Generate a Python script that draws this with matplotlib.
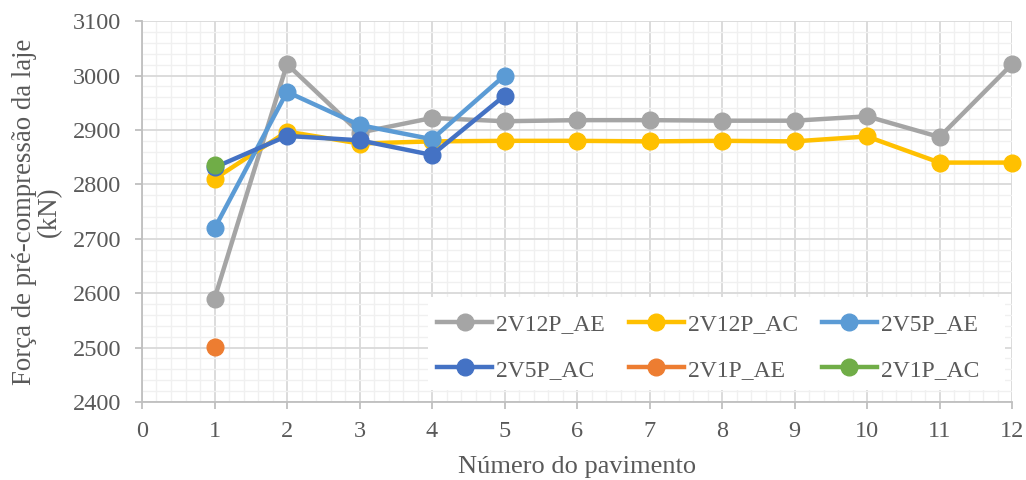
import numpy as np
import matplotlib
matplotlib.use('Agg')
from matplotlib import pyplot as plt
from matplotlib.ticker import MultipleLocator
from matplotlib.patches import Rectangle

plt.rcParams['font.family'] = ['Liberation Serif', 'DejaVu Serif']

floors12 = [1, 2, 3, 4, 5, 6, 7, 8, 9, 10, 11, 12]
floors5 = [1, 2, 3, 4, 5]
floors1 = [1]

v12_ae = [2590, 3021, 2895, 2922, 2916, 2918, 2918, 2917, 2917, 2925, 2887, 3021]
v12_ac = [2810, 2897, 2875, 2879, 2880, 2880, 2879, 2880, 2879, 2888, 2840, 2840]
v5_ae = [2719, 2970, 2909, 2883, 3000]
v5_ac = [2831, 2889, 2881, 2854, 2963]
v1_ae = [2501]
v1_ac = [2835]

names = ['2V12P_AE', '2V12P_AC', '2V5P_AE', '2V5P_AC', '2V1P_AE', '2V1P_AC']
cores = ['#A5A5A5', '#FFC000', '#5B9BD5', '#4472C4', '#ED7D31', '#70AD47']

fig = plt.figure(figsize=(10.26, 4.8), dpi=100)
ax = fig.add_axes([0.1384, 0.1625, 0.848, 0.7935])

series = [(floors12, v12_ae), (floors12, v12_ac), (floors5, v5_ae),
          (floors5, v5_ac), (floors1, v1_ae), (floors1, v1_ac)]
linhas = []
for (xs, ys), nm, c in zip(series, names, cores):
    l, = ax.plot(xs, ys, '-o', color=c, lw=3.2, ms=12, label=nm, zorder=3,
                 clip_on=False)
    linhas.append(l)

ax.set_xlim(0, 12)
ax.set_ylim(2400, 3100)
ax.xaxis.set_major_locator(MultipleLocator(1))
ax.xaxis.set_minor_locator(MultipleLocator(0.2))
ax.yaxis.set_major_locator(MultipleLocator(100))
ax.yaxis.set_minor_locator(MultipleLocator(20))
ax.grid(which='major', color='#D9D9D9', lw=1.3)
ax.grid(which='minor', color='#F0F0F0', lw=1.0)
ax.set_axisbelow(True)

for s in ['top', 'right']:
    ax.spines[s].set_visible(False)
for s in ['left', 'bottom']:
    ax.spines[s].set_color('#BFBFBF')
    ax.spines[s].set_linewidth(1.3)
ax.tick_params(which='major', direction='out', length=5, color='#BFBFBF',
               labelsize=17.5, labelcolor='#595959', width=1.3)
ax.tick_params(axis='y', pad=10)
ax.tick_params(axis='x', pad=9)
ax.tick_params(which='minor', length=0)

ax.set_xlabel('Número do pavimento', fontsize=19, color='#595959', labelpad=10)
ax.set_ylabel('Força de pré-compressão da laje\n(kN)', fontsize=19.3,
              color='#595959', labelpad=8, linespacing=1.0)

# white legend area (wider than the entries, as in the original)
ax.add_patch(Rectangle((0.3287, 0.0315), 0.663, 0.244, transform=ax.transAxes,
                       facecolor='white', edgecolor='none', zorder=2.5))

# row-major order like the original legend
ordem = [0, 3, 1, 4, 2, 5]
leg = ax.legend([linhas[i] for i in ordem], [names[i] for i in ordem],
                ncol=3, loc='lower left', bbox_to_anchor=(0.3287, 0.0315),
                fontsize=17, frameon=False, handlelength=2.33,
                columnspacing=1.0, handletextpad=0.17, labelspacing=1.0,
                borderpad=0.4, borderaxespad=0)
for t in leg.get_texts():
    t.set_color('#595959')

plt.savefig('out.png', dpi=100)
